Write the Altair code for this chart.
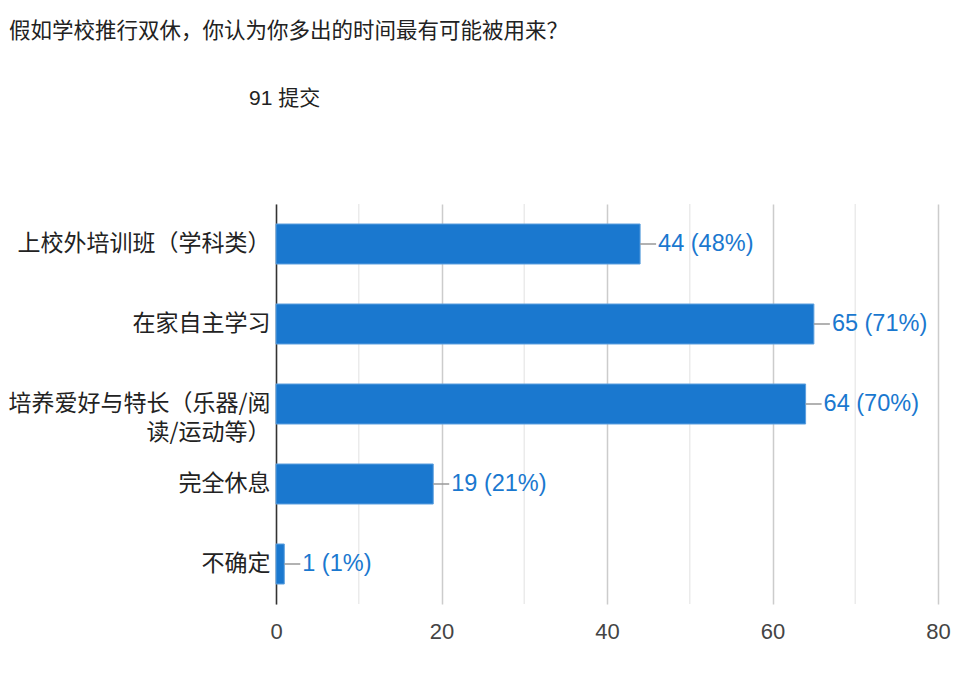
import altair as alt
import pandas as pd

categories = ["上校外培训班（学科类）", "在家自主学习", "培养爱好与特长（乐器/阅读/运动等）", "完全休息", "不确定"]
counts = [44, 65, 64, 19, 1]
percents = [48, 71, 70, 21, 1]
total = 91
title_text = "假如学校推行双休，你认为你多出的时间最有可能被用来？"
subtitle_text = f"{total} 提交"
x_ticks = [0, 20, 40, 60, 80]
minor_ticks = [10, 30, 50, 70]

df = pd.DataFrame({
    "cat": categories,
    "count": counts,
    "label": [f"{c} ({p}%)" for c, p in zip(counts, percents)],
})

CJK = "'Noto Sans CJK SC', sans-serif"
NUM = "'Liberation Sans', Arial, 'Noto Sans CJK SC', sans-serif"
BLUE = "#1a78cf"

y_enc = alt.Y("cat:N", sort=categories, title=None,
              scale=alt.Scale(paddingInner=0.5, paddingOuter=0.25),
              axis=alt.Axis(
                  labelExpr="datum.value == '培养爱好与特长（乐器/阅读/运动等）' ? ['培养爱好与特长（乐器/阅', '读/运动等）'] : datum.value",
                  labelFontSize=23, labelColor="#222222", labelFont=CJK,
                  labelPadding=6, ticks=False, domainColor="#333333", domainWidth=1.5,
                  labelLineHeight=29, labelLimit=300, grid=False))

x_scale = alt.Scale(domain=[0, 80], nice=False)

minor_df = pd.DataFrame({"v": minor_ticks})
minor = alt.Chart(minor_df).mark_rule(color="#ebebeb", strokeWidth=1.5).encode(
    x=alt.X("v:Q", scale=x_scale), y=alt.value(0), y2=alt.value(400))

bars = alt.Chart(df).mark_bar(color=BLUE, stroke="#5c9fde", strokeWidth=1).encode(
    x=alt.X("count:Q", scale=x_scale, title=None,
            axis=alt.Axis(values=x_ticks, labelFontSize=22, labelColor="#444444", labelFont=NUM,
                          gridColor="#cccccc", gridWidth=1.5, domain=False, ticks=False,
                          labelPadding=17, labelFlush=False, labelOverlap=False)),
    y=y_enc,
)

conn = alt.Chart(df).mark_rule(color="#999999", strokeWidth=1.5, x2Offset=16).encode(
    x=alt.X("count:Q", scale=x_scale), x2="count:Q",
    y=alt.Y("cat:N", sort=categories))

labels = alt.Chart(df).mark_text(align="left", baseline="middle", dx=18, fontSize=23.5,
                                 color="#1a78cf", font=NUM).encode(
    x=alt.X("count:Q", scale=x_scale),
    y=alt.Y("cat:N", sort=categories),
    text="label:N")

sub = alt.Chart(pd.DataFrame({"t": [subtitle_text]})).mark_text(
    align="left", baseline="middle", fontSize=21, color="#222222", font=NUM).encode(
    x=alt.value(-27), y=alt.value(-105), text="t:N")

ttl = alt.Chart(pd.DataFrame({"t": [title_text]})).mark_text(
    align="left", baseline="middle", fontSize=21.5, color="#222222", font=CJK).encode(
    x=alt.value(-267), y=alt.value(-172), text="t:N")

chart = alt.layer(minor, bars, conn, labels, sub, ttl).properties(
    width=662, height=400,
    padding={"left": 268, "top": 196, "right": 14, "bottom": 62},
    autosize=alt.AutoSizeParams(type="none"),
).configure_view(stroke=None).configure_axisY(labelAlign="right")

chart.save("out.html", embed_options={"renderer": "svg", "actions": False})
